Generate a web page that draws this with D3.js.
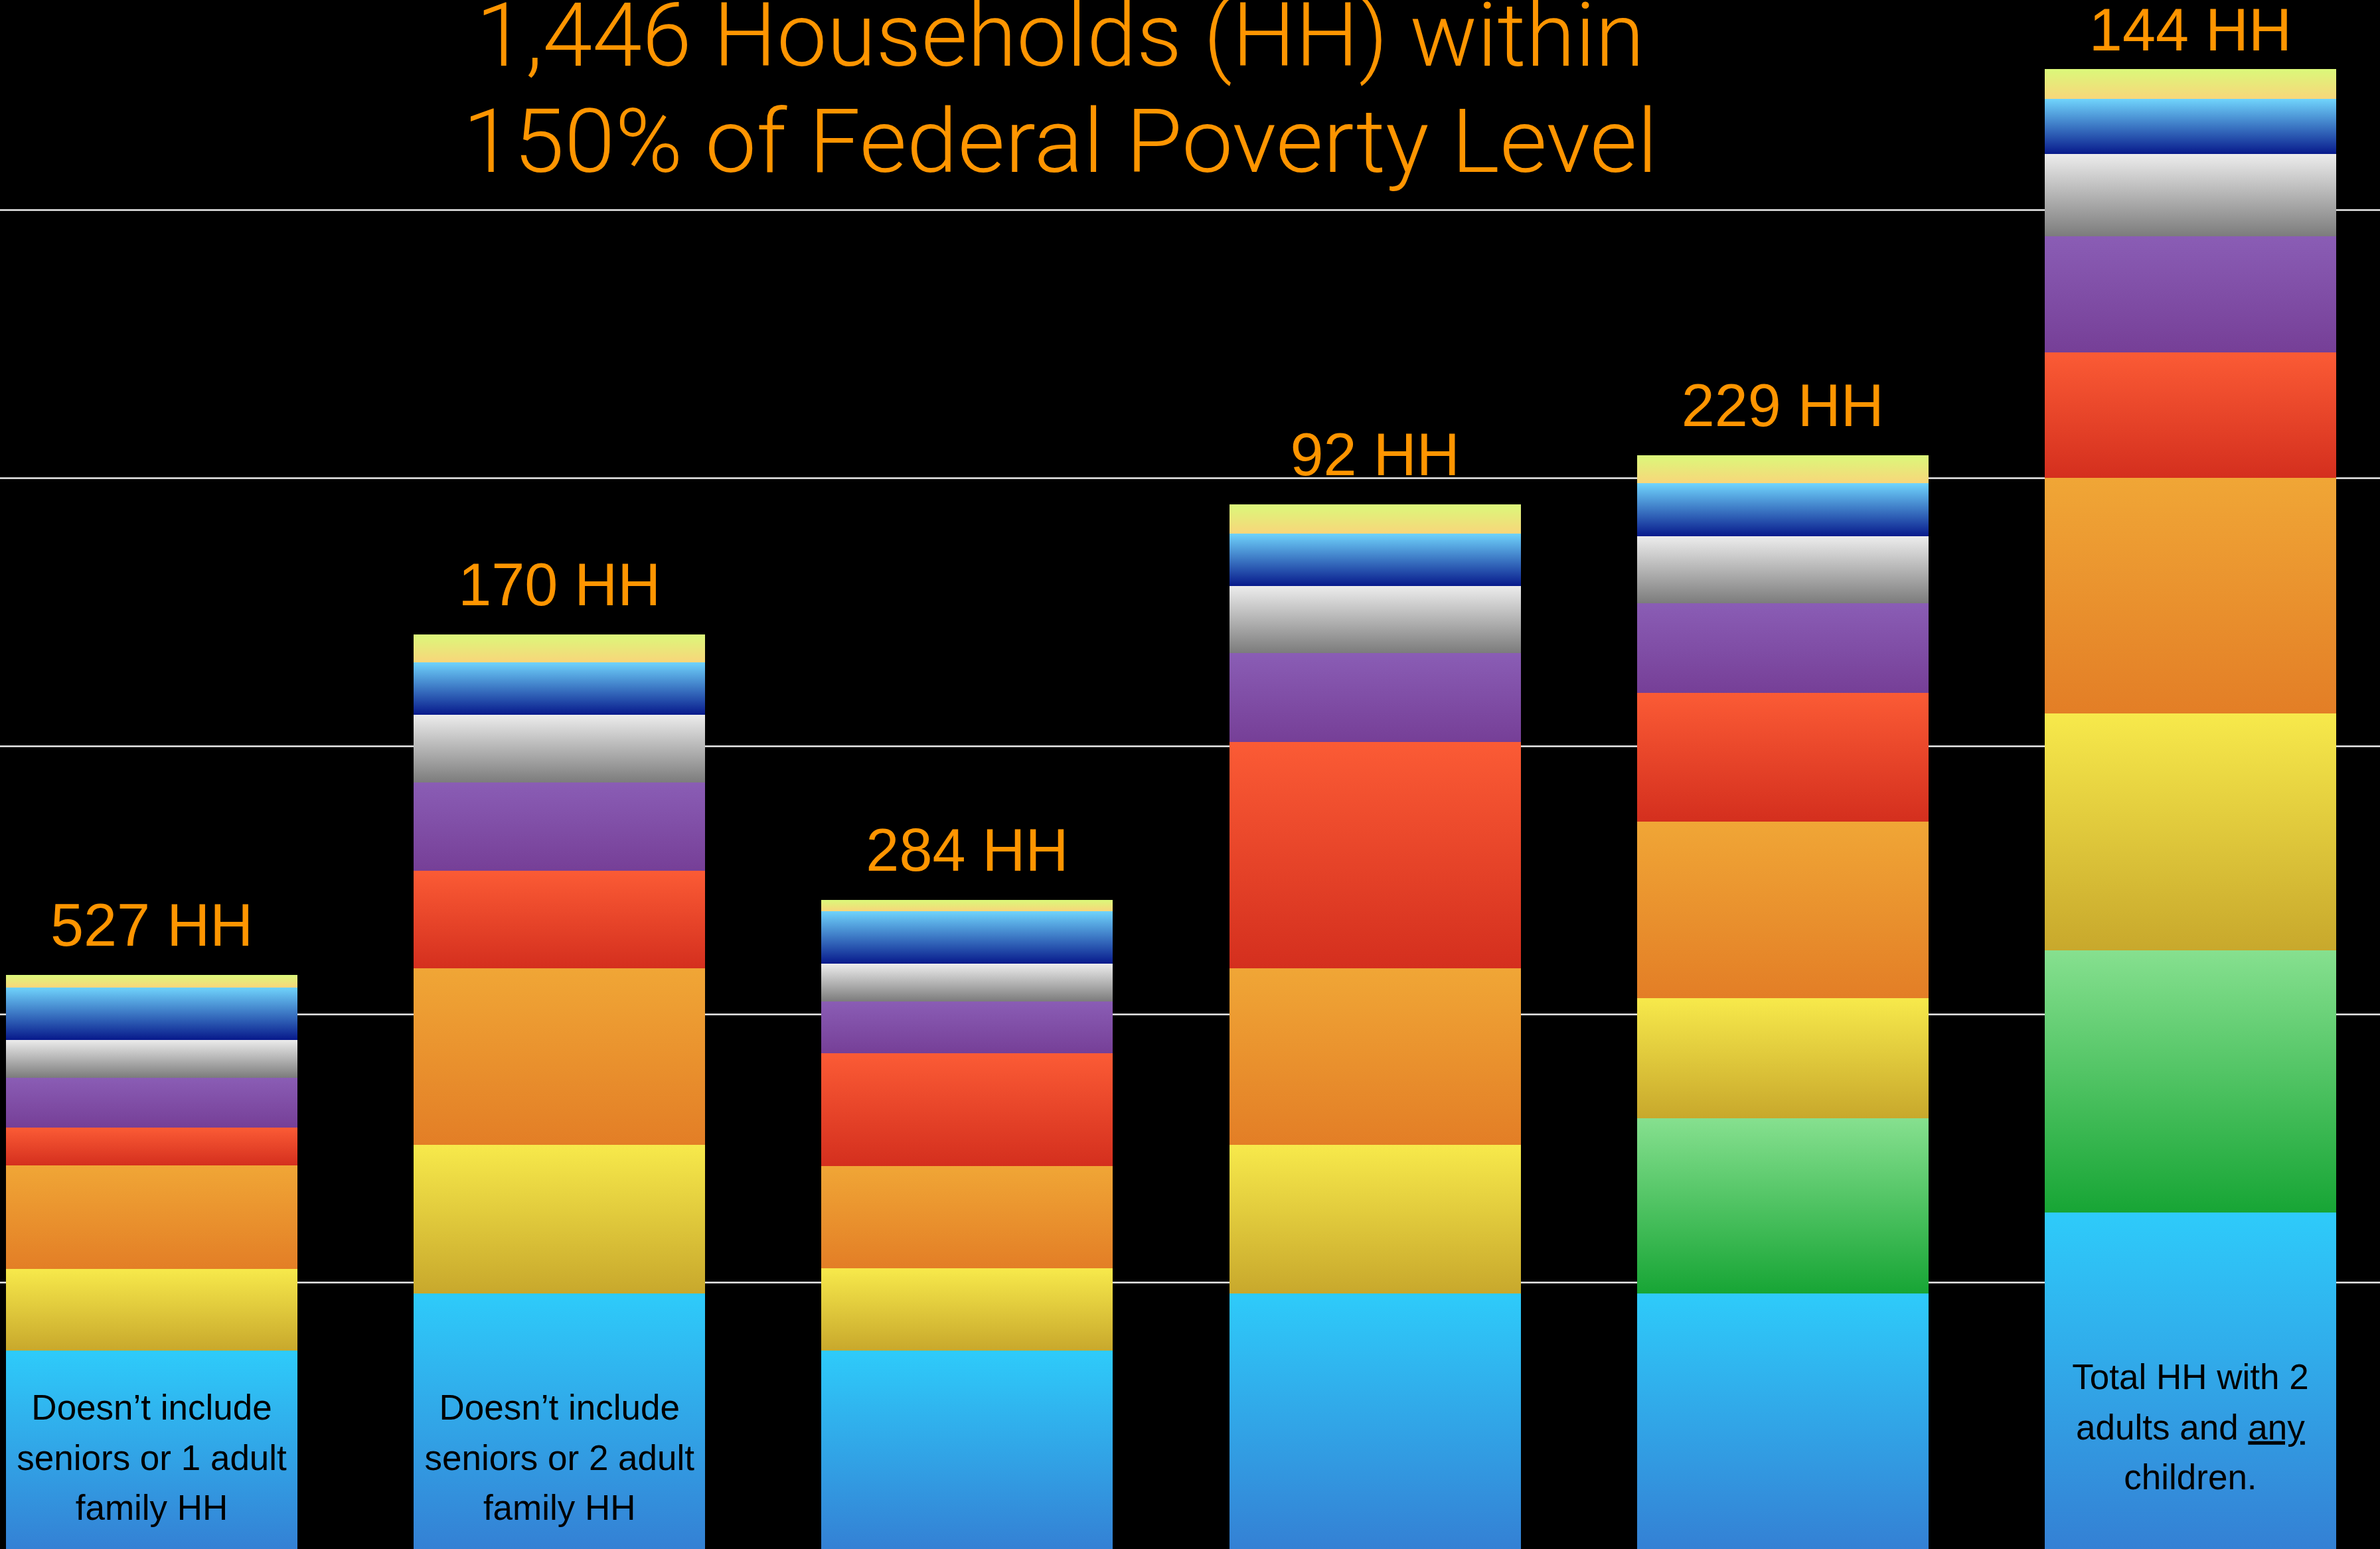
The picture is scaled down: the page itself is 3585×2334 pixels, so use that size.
<!DOCTYPE html>
<html>
<head>
<meta charset="utf-8">
<script src="https://cdn.jsdelivr.net/npm/d3@7"></script>
<style>
  html, body { margin: 0; padding: 0; background: #000; }
  svg { display: block; }
</style>
</head>
<body>
<svg width="3585" height="2334"></svg>
<script>
// household groups (bar labels) and their counts
var hhCounts = [527, 170, 284, 92, 229, 144];
var bars = hhCounts.map(function(d) { return d + " HH"; });

// stacked budget pieces, bottom to top, one value per bar
var skyBlue = [7440, 9580, 7440, 9580, 9580, 12590];
var green   = [0, 0, 0, 0, 6540, 9780];
var yellow  = [3060, 5550, 3070, 5550, 4470, 8840];
var orange  = [3850, 6570, 3830, 6570, 6600, 8790];
var red     = [1420, 3640, 4190, 8460, 4790, 4680];
var purple  = [1860, 3290, 1940, 3310, 3340, 4330];
var gray    = [1410, 2530, 1400, 2490, 2490, 3060];
var navy    = [1960, 1970, 1970, 1970, 1980, 2060];
var lime    = [470, 1040, 410, 1070, 1060, 1110];

var gridValues = [10000, 20000, 30000, 40000, 50000];

var titleLines = ["1,446 Households (HH) within", "150% of Federal Poverty Level"];

// notes written inside the bottom of some bars (_x_ = underlined)
var notes = [
  { bar: 0, lines: ["Doesn\u2019t include", "seniors or 1 adult", "family HH"] },
  { bar: 1, lines: ["Doesn\u2019t include", "seniors or 2 adult", "family HH"] },
  { bar: 5, lines: ["Total HH with 2", "adults and _any_", "children."] }
];

var keys = ["skyBlue", "green", "yellow", "orange", "red", "purple", "gray", "navy", "lime"];
var series = { skyBlue: skyBlue, green: green, yellow: yellow, orange: orange, red: red,
               purple: purple, gray: gray, navy: navy, lime: lime };

var rows = bars.map(function(b, i) {
  var r = { bar: b };
  keys.forEach(function(k) { r[k] = series[k][i]; });
  return r;
});

// gradient per piece: top colour -> bottom colour
var palette = {
  skyBlue: ["#2ecbfa", "#3480d4"],
  green:   ["#86e08f", "#17a535"],
  yellow:  ["#f7e94b", "#c8a82c"],
  orange:  ["#f0a636", "#e37e26"],
  red:     ["#fb5b35", "#d42f1e"],
  purple:  ["#8a5db5", "#763f97"],
  gray:    ["#ececec", "#7c7c7c"],
  navy:    ["#70d4fc", "#07198b"],
  lime:    ["#dbf87a", "#f8d67a"]
};

var svg = d3.select("svg"),
    width = +svg.attr("width"),
    height = +svg.attr("height");

var orangeText = "#ff9500";

var xScale = d3.scaleBand().domain(bars).range([9, 3519]).paddingInner(0.285).paddingOuter(0),
    yScale = d3.scaleLinear().domain([0, 50000]).range([2336, 316]);

var defs = svg.append("defs");
keys.forEach(function(k) {
  var g = defs.append("linearGradient")
    .attr("id", "grad-" + k)
    .attr("x1", 0).attr("y1", 0).attr("x2", 0).attr("y2", 1);
  g.append("stop").attr("offset", "0%").attr("stop-color", palette[k][0]);
  g.append("stop").attr("offset", "100%").attr("stop-color", palette[k][1]);
});

// horizontal grid lines across the whole page
svg.append("g")
  .attr("class", "grid")
  .call(d3.axisRight(yScale).tickValues(gridValues).tickSize(width).tickFormat(""))
  .call(function(g) { g.select(".domain").remove(); })
  .selectAll("line")
  .attr("stroke", "#ededed")
  .attr("stroke-width", 2.5);

var stacked = d3.stack().keys(keys)(rows);

svg.append("g")
  .selectAll("g")
  .data(stacked)
  .enter().append("g")
  .attr("fill", function(d) { return "url(#grad-" + d.key + ")"; })
  .selectAll("rect")
  .data(function(d) { return d.filter(function(p) { return p[1] - p[0] > 0; }); })
  .enter().append("rect")
  .attr("x", function(d) { return xScale(d.data.bar); })
  .attr("y", function(d) { return yScale(d[1]); })
  .attr("width", xScale.bandwidth())
  .attr("height", function(d) { return yScale(d[0]) - yScale(d[1]); })
  .attr("shape-rendering", "crispEdges");

// HH count over each bar
var totals = rows.map(function(r) { return d3.sum(keys, function(k) { return r[k]; }); });

svg.append("g")
  .selectAll("text")
  .data(bars)
  .enter().append("text")
  .attr("x", function(d) { return xScale(d) + xScale.bandwidth() / 2; })
  // keep the tallest label inside the page
  .attr("y", function(d, i) { return Math.max(yScale(totals[i]) - 44, 76); })
  .attr("text-anchor", "middle")
  .attr("font-family", "'Liberation Sans', Arial, sans-serif")
  .attr("font-size", "90px")
  .attr("fill", orangeText)
  .text(function(d) { return d; });

// title
svg.append("g")
  .selectAll("text")
  .data(titleLines)
  .enter().append("text")
  .attr("x", 1597)
  .attr("y", function(d, i) { return 99 + i * 160; })
  .attr("text-anchor", "middle")
  .attr("font-family", "Roboto, 'Open Sans', Lato, sans-serif")
  .attr("font-weight", 300)
  .attr("font-size", "133px")
  .attr("fill", orangeText)
  .attr("textLength", function(d, i) { return i == 0 ? 1760 : 1800; })
  .attr("lengthAdjust", "spacingAndGlyphs")
  .text(function(d) { return d; });

// notes inside bars
var noteLift = { 0: 197, 1: 197, 5: 243 };
notes.forEach(function(n) {
  var cx = xScale(bars[n.bar]) + xScale.bandwidth() / 2;
  var t = svg.append("text")
    .attr("text-anchor", "middle")
    .attr("font-family", "'Liberation Sans', Arial, sans-serif")
    .attr("font-size", "53px")
    .attr("fill", "#000");
  n.lines.forEach(function(line, j) {
    var ln = t.append("tspan")
      .attr("x", cx)
      .attr("y", yScale(0) - noteLift[n.bar] + j * 75.5);
    line.split("_").forEach(function(part, p) {
      if (!part) return;
      var s = ln.append("tspan").text(part);
      if (p % 2 == 1) s.attr("text-decoration", "underline");
    });
  });
});
</script>
</body>
</html>
